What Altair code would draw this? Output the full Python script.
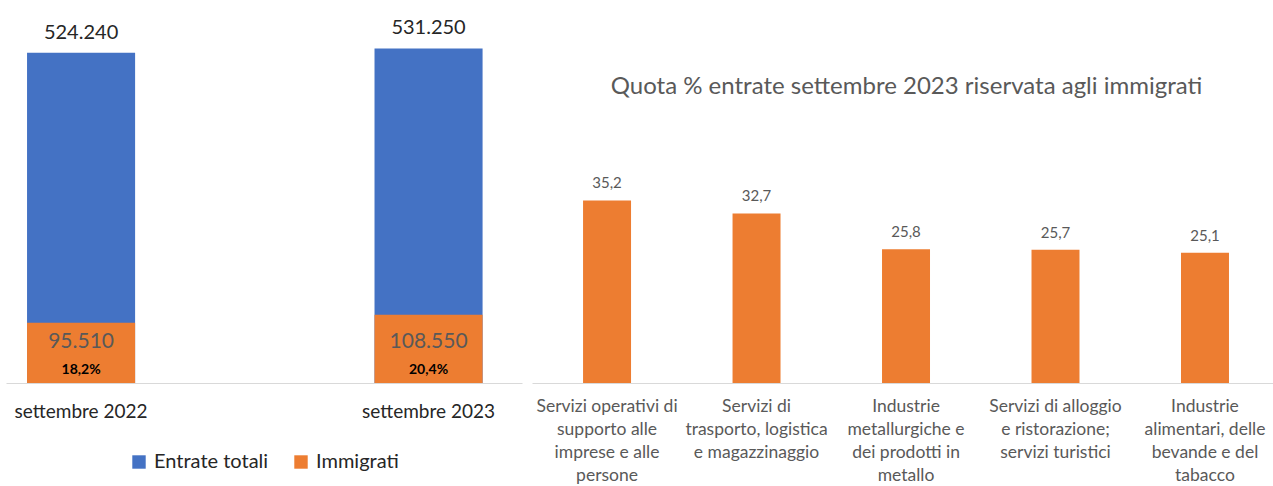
import altair as alt
import pandas as pd

# ---- data ----
periods = ["settembre 2022", "settembre 2023"]
series_names = ["Entrate totali", "Immigrati"]
entrate_totali = [524240, 531250]
immigrati = [95510, 108550]
totali_labels = ["524.240", "531.250"]
immigrati_labels = ["95.510", "108.550"]
quota_labels = ["18,2%", "20,4%"]

settori = [
    "Servizi operativi di|supporto alle|imprese e alle|persone",
    "Servizi di|trasporto, logistica|e magazzinaggio",
    "Industrie|metallurgiche e|dei prodotti in|metallo",
    "Servizi di alloggio|e ristorazione;|servizi turistici",
    "Industrie|alimentari, delle|bevande e del|tabacco",
]
quote = [35.2, 32.7, 25.8, 25.7, 25.1]
quote_labels = ["35,2", "32,7", "25,8", "25,7", "25,1"]

titolo = "Quota % entrate settembre 2023 riservata agli immigrati"

BLUE = "#4472C4"
ORANGE = "#ED7D31"
DARK = "#262626"
GREY = "#595959"
FONT = "Lato"

# ---- left panel ----
bars_df = pd.DataFrame({
    "period": periods + periods,
    "serie": [series_names[0]] * 2 + [series_names[1]] * 2,
    "value": entrate_totali + immigrati,
})
lab_df = pd.DataFrame({
    "period": periods,
    "totale": entrate_totali,
    "tot_lab": totali_labels,
    "imm": immigrati,
    "imm_lab": immigrati_labels,
    "quota": quota_labels,
})

x_left = alt.X(
    "period:N", sort=periods,
    scale=alt.Scale(paddingInner=0.689, paddingOuter=0.087, align=0.348),
    axis=alt.Axis(title=None, labelAngle=0, labelFont=FONT, labelFontSize=19,
                  labelColor=DARK, labelPadding=19, ticks=False,
                  domainColor="#D9D9D9", domainWidth=1.2, labelOverlap=False),
)
y_left_scale = alt.Scale(domain=[0, 570000], nice=False, zero=True)

left_bars = alt.Chart(bars_df).mark_bar().encode(
    x=x_left,
    y=alt.Y("value:Q", stack=None, scale=y_left_scale, axis=None),
    color=alt.Color("serie:N", sort=series_names,
                    scale=alt.Scale(domain=series_names, range=[BLUE, ORANGE]),
                    legend=alt.Legend(title=None)),
    order=alt.Order("serie:N", sort="ascending"),
)

top_labels = alt.Chart(lab_df).mark_text(
    font=FONT, fontSize=20, color=DARK, baseline="alphabetic", dy=-14
).encode(
    x=alt.X("period:N", sort=periods),
    y=alt.Y("totale:Q", scale=y_left_scale),
    text="tot_lab:N",
)

imm_labels = alt.Chart(lab_df).mark_text(
    font=FONT, fontSize=21, color=GREY, baseline="alphabetic", dy=-35
).encode(
    x=alt.X("period:N", sort=periods),
    y=alt.Y(datum=0, scale=y_left_scale),
    text="imm_lab:N",
)

quota_lab = alt.Chart(lab_df).mark_text(
    font=FONT, fontSize=14, fontWeight="bold", color="#000000",
    baseline="alphabetic", dy=-9
).encode(
    x=alt.X("period:N", sort=periods),
    y=alt.Y(datum=0, scale=y_left_scale),
    text="quota:N",
)

left = alt.layer(left_bars, top_labels, imm_labels, quota_lab).properties(
    width=516, height=359
)

# ---- right panel ----
q_df = pd.DataFrame({"settore": settori, "quota": quote, "lab": quote_labels})
x_right = alt.X(
    "settore:N", sort=settori,
    scale=alt.Scale(paddingInner=0.679, paddingOuter=0.318, align=0.537),
    axis=alt.Axis(title=None, labelAngle=0, labelExpr="split(datum.label, '|')",
                  labelFont=FONT, labelFontSize=17.5, labelColor=GREY,
                  labelLineHeight=23, labelPadding=14, ticks=False,
                  domainColor="#D9D9D9", domainWidth=1.2, labelOverlap=False,
                  labelLimit=200),
)
y_right_scale = alt.Scale(domain=[0, 69.24], nice=False)

right_bars = alt.Chart(q_df).mark_bar(color=ORANGE).encode(
    x=x_right,
    y=alt.Y("quota:Q", scale=y_right_scale, axis=None),
)
right_labels = alt.Chart(q_df).mark_text(
    font=FONT, fontSize=15, color=GREY, baseline="alphabetic", dy=-12
).encode(
    x=alt.X("settore:N", sort=settori),
    y=alt.Y("quota:Q", scale=y_right_scale),
    text="lab:N",
)

right = alt.layer(right_bars, right_labels).properties(
    width=741, height=359,
    title=alt.TitleParams(titolo, anchor="middle", frame="group", offset=-87,
                          baseline="middle", font=FONT, fontSize=24,
                          fontWeight="normal", color=GREY, dx=4),
)

chart = alt.hconcat(left, right, spacing=10, bounds="flush").resolve_scale(
    x="independent", y="independent"
).properties(
    padding={"left": 6, "top": 18, "right": 0, "bottom": 0}
).configure(font=FONT).configure_view(stroke=None).configure_legend(
    orient="none", legendX=123, legendY=428, direction="horizontal",
    symbolType="square", symbolSize=180, symbolStrokeWidth=0,
    labelFont=FONT, labelFontSize=20, labelColor=DARK, columnPadding=22,
    symbolOffset=0, labelOffset=5,
)

chart.save("out.html", embed_options={"renderer": "svg", "actions": False})
